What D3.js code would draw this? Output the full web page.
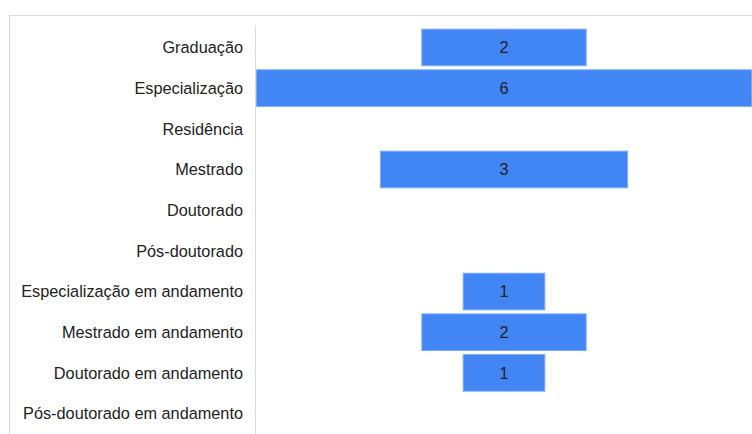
<!DOCTYPE html>
<html>
<head>
<meta charset="utf-8">
<script src="https://cdn.jsdelivr.net/npm/d3@7"></script>
<style>
  body { margin: 0; background: #fff; }
</style>
</head>
<body>
<div id="chart"></div>
<script>
var categories = [
  "Graduação",
  "Especialização",
  "Residência",
  "Mestrado",
  "Doutorado",
  "Pós-doutorado",
  "Especialização em andamento",
  "Mestrado em andamento",
  "Doutorado em andamento",
  "Pós-doutorado em andamento"
];
var values = [2, 6, 0, 3, 0, 0, 1, 2, 1, 0];

var svgWidth = 752;
var svgHeight = 434;
// no serif face renders here, so use Liberation Sans sized to match label widths
var fontStack = "Liberation Sans, Arial, sans-serif";

var svg = d3.select("#chart")
  .append("svg")
  .attr("width", svgWidth)
  .attr("height", svgHeight);

// frame lines
svg.append("line")
  .attr("x1", 9.5).attr("x2", svgWidth)
  .attr("y1", 15.5).attr("y2", 15.5)
  .attr("stroke", "#d9d9d9");
svg.append("line")
  .attr("x1", 9.5).attr("x2", 9.5)
  .attr("y1", 15.5).attr("y2", svgHeight)
  .attr("stroke", "#d9d9d9");

var plotLeft = 256;
var plotRight = 752;
var center = (plotLeft + plotRight) / 2;

var yScale = d3.scaleBand()
  .domain(categories)
  .range([27, 434])
  .paddingInner(0.075)
  .paddingOuter(0.04);

var wScale = d3.scaleLinear()
  .domain([0, d3.max(values)])
  .range([0, plotRight - plotLeft]);

// axis line
svg.append("line")
  .attr("x1", 255.5).attr("x2", 255.5)
  .attr("y1", 27).attr("y2", svgHeight)
  .attr("stroke", "#d9d9d9");

var data = categories.map(function(c, i) { return { cat: c, val: values[i] }; });

// labels
svg.selectAll(".cat")
  .data(data)
  .enter()
  .append("text")
  .attr("class", "cat")
  .attr("x", 243)
  .attr("y", d => yScale(d.cat) + yScale.bandwidth() / 2)
  .attr("dy", "0.35em")
  .attr("text-anchor", "end")
  .style("font-family", fontStack)
  .style("font-size", "16.3px")
  .attr("fill", "#222")
  .text(d => d.cat);

var bars = data.filter(d => d.val > 0);

svg.selectAll(".bar")
  .data(bars)
  .enter()
  .append("rect")
  .attr("class", "bar")
  .attr("x", d => center - wScale(d.val) / 2 + 0.5)
  .attr("y", d => yScale(d.cat) + 0.5)
  .attr("width", d => wScale(d.val) - 1)
  .attr("height", yScale.bandwidth() - 1)
  .attr("fill", "#4285f4")
  .attr("stroke", "#7eacf7")
  .attr("stroke-width", 1);

svg.selectAll(".val")
  .data(bars)
  .enter()
  .append("text")
  .attr("class", "val")
  .attr("x", center)
  .attr("y", d => yScale(d.cat) + yScale.bandwidth() / 2)
  .attr("dy", "0.35em")
  .attr("text-anchor", "middle")
  .style("font-family", fontStack)
  .style("font-size", "16.3px")
  .attr("fill", "#222")
  .text(d => d.val);
</script>
</body>
</html>
